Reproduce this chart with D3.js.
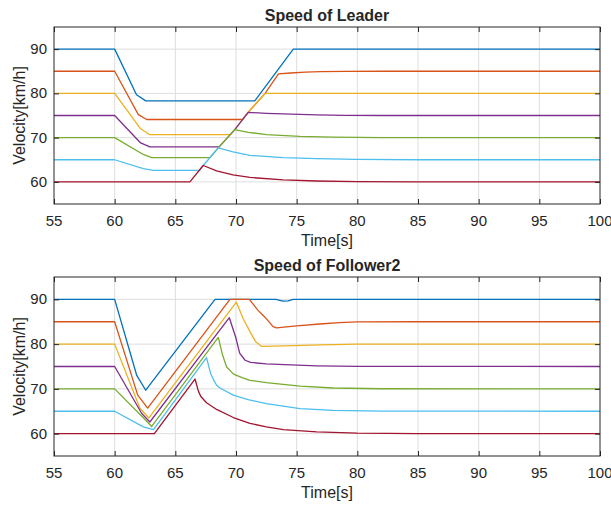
<!DOCTYPE html>
<html>
<head>
<meta charset="utf-8">
<script src="https://cdn.jsdelivr.net/npm/d3@7"></script>
<style>
  html, body { margin: 0; padding: 0; background: #fff; }
  svg { display: block; }
  text { font-family: "Liberation Sans", Arial, sans-serif; fill: #262626; }
</style>
</head>
<body>
<svg id="chart" width="611" height="506"></svg>
<script>
// Axis ticks shared by both panels
const timeTicks = [55, 60, 65, 70, 75, 80, 85, 90, 95, 100];
const speedTicks = [60, 70, 80, 90];
const timeDomain = [55, 100];
const speedDomain = [55, 95];

// Series colours (one per initial speed: 90, 85, 80, 75, 70, 65, 60 km/h)
const seriesColors = ["#0072BD", "#D95319", "#EDB120", "#7E2F8E", "#77AC30", "#4DBEEE", "#A2142F"];

// Leader speed traces, [time s, speed km/h]
const leader90 = [[55,90],[60,90],[61.8,79.7],[62.56,78.3],[71.55,78.3],[74.72,90],[100,90]];
const leader85 = [[55,85],[60,85],[61.95,75.2],[62.64,74.1],[70.55,74.1],[71.0,75.7],[72.4,80.0],[73.5,84.4],[74.5,84.6],[75.7,84.78],[77,84.9],[79,84.97],[82,85],[100,85]];
const leader80 = [[55,80],[60,80],[62.14,72.0],[62.86,70.7],[69.54,70.7],[69.9,71.8],[71.0,75.7],[72.4,80.0],[100,80]];
const leader75 = [[55,75],[60,75],[62.14,68.8],[62.9,67.9],[68.61,67.9],[69.9,71.8],[71.0,75.7],[72.5,75.5],[73.9,75.35],[76.65,75.12],[79,75.03],[82,75],[100,75]];
const leader70 = [[55,70],[60,70],[62.36,66.2],[63.05,65.5],[67.86,65.5],[68.54,67.7],[69.9,71.8],[71.0,71.2],[72.5,70.7],[75.25,70.3],[78,70.1],[82,70.02],[100,70]];
const leader65 = [[55,65],[60,65],[62.36,63.0],[63.2,62.6],[66.97,62.6],[67.3,63.7],[68.54,67.7],[69.75,66.8],[71.15,66.0],[73.9,65.5],[76.65,65.25],[80,65.08],[85,65],[100,65]];
const leader60 = [[55,60],[66.2,60],[67.3,63.7],[68.4,62.5],[69.75,61.6],[71.15,61.0],[73.9,60.45],[76.65,60.2],[80,60.05],[85,60],[100,60]];

// Follower 2 speed traces, [time s, speed km/h]
const follower90 = [[55,90],[60,90],[61.82,73.0],[62.56,69.7],[68.27,90],[73.3,90],[73.6,89.8],[73.9,89.6],[74.3,89.65],[74.7,90],[100,90]];
const follower85 = [[55,85],[60,85],[61.9,68.6],[62.72,65.7],[69.5,90],[71.1,90],[71.8,87.6],[72.2,86.5],[72.5,85.7],[73.05,83.9],[73.33,83.65],[75.0,84.1],[76.9,84.5],[78.5,84.8],[80,84.95],[85,85],[100,85]];
const follower80 = [[55,80],[60,80],[62.09,65.6],[62.82,63.5],[70.03,89.4],[70.6,85.6],[71.15,82.8],[71.6,80.6],[72.1,79.5],[74,79.6],[77,79.85],[80,80],[100,80]];
const follower75 = [[55,75],[60,75],[62.23,64.5],[62.9,62.6],[69.45,85.9],[70.0,81.3],[70.3,78.0],[70.75,76.4],[71.2,75.9],[72.5,75.6],[74,75.4],[76.65,75.15],[80,75.02],[100,75]];
const follower70 = [[55,70],[60,70],[62.3,63.7],[63.05,61.6],[68.54,81.5],[68.9,77.5],[69.23,74.9],[69.8,73.3],[70.5,72.5],[71.15,71.9],[72.5,71.4],[75.27,70.6],[78,70.2],[82,70.03],[100,70]];
const follower65 = [[55,65],[60,65],[62.36,61.5],[63.2,60.9],[67.57,77.0],[67.9,73.5],[68.1,72.3],[68.4,70.8],[68.68,70.2],[69.78,68.6],[71,67.6],[72.5,66.7],[75.27,65.6],[78,65.2],[82,65.05],[100,65]];
const follower60 = [[55,60],[63.27,60],[66.62,72.2],[66.9,69.5],[67.1,68.3],[67.57,66.9],[68.4,65.4],[69.78,63.6],[71.15,62.3],[72.5,61.5],[73.9,60.9],[76.65,60.4],[80,60.1],[85,60],[100,60]];

const leaderSeries = [leader90, leader85, leader80, leader75, leader70, leader65, leader60];
const followerSeries = [follower90, follower85, follower80, follower75, follower70, follower65, follower60];

const svg = d3.select("#chart");

function drawPanel(cfg) {
  const { top, bottom, left, right, title, titleY, tickLabelY, xLabelY, series } = cfg;
  const x = d3.scaleLinear().domain(timeDomain).range([left, right]);
  const y = d3.scaleLinear().domain(speedDomain).range([bottom, top]);
  const g = svg.append("g");

  // grid
  g.append("g").selectAll("line").data(timeTicks.slice(1, -1)).join("line")
    .attr("x1", d => x(d)).attr("x2", d => x(d))
    .attr("y1", top).attr("y2", bottom)
    .attr("stroke", "#dedede").attr("stroke-width", 1);
  g.append("g").selectAll("line").data(speedTicks).join("line")
    .attr("x1", left).attr("x2", right)
    .attr("y1", d => y(d)).attr("y2", d => y(d))
    .attr("stroke", "#dedede").attr("stroke-width", 1);

  // data lines
  const line = d3.line().x(d => x(d[0])).y(d => y(d[1]));
  g.append("g").selectAll("path").data(series).join("path")
    .attr("d", line)
    .attr("fill", "none")
    .attr("stroke", (d, i) => seriesColors[i])
    .attr("stroke-width", 1.3)
    .attr("stroke-linejoin", "round");

  // axes with inward ticks on all four sides
  const tickLen = 5;
  const axB = g.append("g").attr("transform", `translate(0,${bottom})`)
    .call(d3.axisBottom(x).tickValues(timeTicks).tickSize(-tickLen).tickFormat(""));
  const axT = g.append("g").attr("transform", `translate(0,${top})`)
    .call(d3.axisTop(x).tickValues(timeTicks).tickSize(-tickLen).tickFormat(""));
  const axL = g.append("g").attr("transform", `translate(${left},0)`)
    .call(d3.axisLeft(y).tickValues(speedTicks).tickSize(-tickLen).tickFormat(""));
  const axR = g.append("g").attr("transform", `translate(${right},0)`)
    .call(d3.axisRight(y).tickValues(speedTicks).tickSize(-tickLen).tickFormat(""));
  [axB, axT, axL, axR].forEach(a => {
    a.select(".domain").remove();
    a.selectAll(".tick line").attr("stroke", "#262626").attr("stroke-width", 1);
  });

  // frame
  g.append("rect")
    .attr("x", left).attr("y", top)
    .attr("width", right - left).attr("height", bottom - top)
    .attr("fill", "none").attr("stroke", "#262626").attr("stroke-width", 1);

  // tick labels
  g.append("g").selectAll("text").data(timeTicks).join("text")
    .attr("x", d => x(d)).attr("y", tickLabelY)
    .attr("text-anchor", "middle").attr("font-size", 15)
    .text(d => d);
  g.append("g").selectAll("text").data(speedTicks).join("text")
    .attr("x", left - 7).attr("y", d => y(d) + 5)
    .attr("text-anchor", "end").attr("font-size", 15)
    .text(d => d);

  // axis labels
  g.append("text")
    .attr("x", (left + right) / 2).attr("y", xLabelY)
    .attr("text-anchor", "middle").attr("font-size", 16)
    .text("Time[s]");
  g.append("text")
    .attr("transform", `translate(25,${(top + bottom) / 2}) rotate(-90)`)
    .attr("text-anchor", "middle").attr("font-size", 16)
    .text("Velocity[km/h]");

  // title
  g.append("text")
    .attr("x", (left + right) / 2).attr("y", titleY)
    .attr("text-anchor", "middle").attr("font-size", 16)
    .attr("font-weight", "bold").attr("fill", "#000")
    .text(title);
}

drawPanel({
  top: 27, bottom: 204, left: 54, right: 600,
  title: "Speed of Leader", titleY: 21, tickLabelY: 226, xLabelY: 246,
  series: leaderSeries
});

drawPanel({
  top: 277, bottom: 456, left: 54, right: 600,
  title: "Speed of Follower2", titleY: 271, tickLabelY: 478, xLabelY: 498,
  series: followerSeries
});
</script>
</body>
</html>
